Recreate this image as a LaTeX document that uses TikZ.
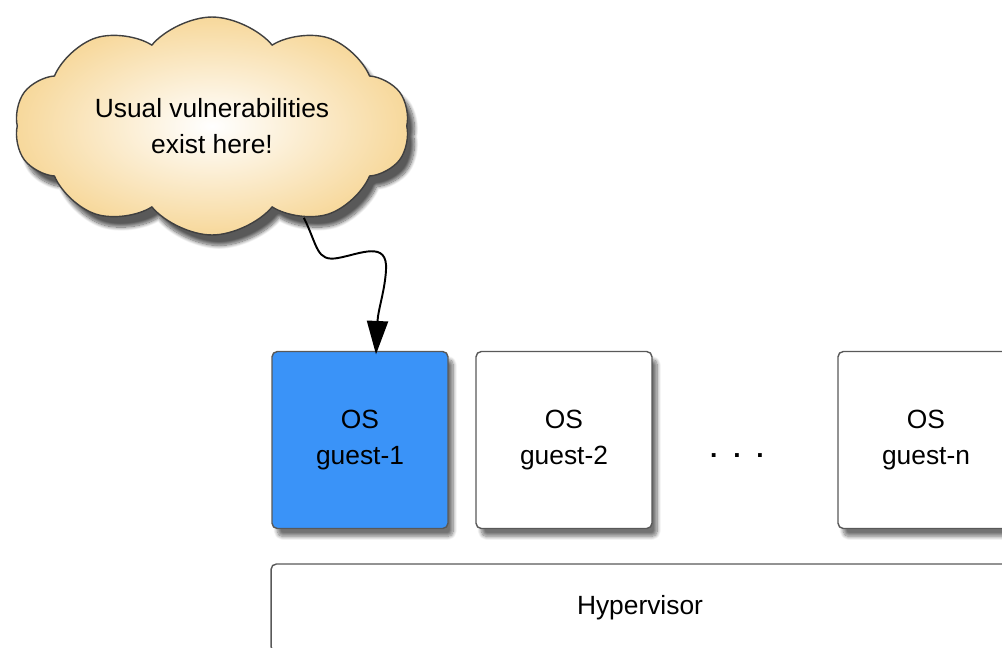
\documentclass[tikz,border=0pt]{standalone}
\usepackage{fontspec}
\setmainfont{Liberation Sans}
\usetikzlibrary{shapes.symbols,arrows.meta,shadows.blur}

\definecolor{guestblue}{RGB}{58,147,248}
\definecolor{cloudtan}{RGB}{247,216,155}

\tikzset{
  label font/.style={font=\fontsize{15}{20.4}\selectfont},
  soft shadow/.style={blur shadow={shadow xshift=3pt,shadow yshift=-4.5pt,shadow opacity=55,shadow blur steps=12}},
  guest/.style={draw=black!65,line width=0.8pt,rounded corners=3pt,fill=white,
    minimum width=3.52cm,minimum height=3.54cm,inner sep=0pt,align=center,
    label font,soft shadow},
}

\begin{document}
\begin{tikzpicture}[x=0.02cm,y=-0.02cm]
\useasboundingbox (0,0) rectangle (1002,647);
\clip (0,0) rectangle (1002,647);

% the callout cloud
\node (vuln) at (212,126) [cloud,cloud puffs=10,cloud puff arc=100,aspect=2.1,
  draw=black!75,line width=0.8pt,shading=radial,inner color=white,outer color=cloudtan,
  minimum width=7.9cm,minimum height=4.36cm,align=center,
  font=\fontsize{15}{20.4}\selectfont,
  blur shadow={shadow xshift=4pt,shadow yshift=-6pt,shadow opacity=65,shadow blur steps=12}]
  {Usual vulnerabilities\\exist here!};

% guests
\node (g1) at (360,440) [guest,fill=guestblue] {OS\\guest-1};
\node (g2) at (564,440) [guest] {OS\\guest-2};
\node (dots) at (737,456) [label font] {\textbf{.}\hspace{9pt}\textbf{.}\hspace{9pt}\textbf{.}};
\node (gn) at (926,440) [guest] {OS\\guest-n};

% hypervisor layer
\node (hyp) at (640,608) [guest,minimum width=14.76cm,minimum height=1.76cm] {Hypervisor};

\draw [-{Triangle[length=19pt,width=12pt]},line width=1.1pt]
  (vuln.-45) .. controls (318,246) and (316,262) .. (338,258)
  .. controls (360,254) and (388,240) .. (386,270)
  .. controls (385,290) and (378,310) .. ([xshift=0.32cm,yshift=-2pt]g1.north);
\end{tikzpicture}
\end{document}
